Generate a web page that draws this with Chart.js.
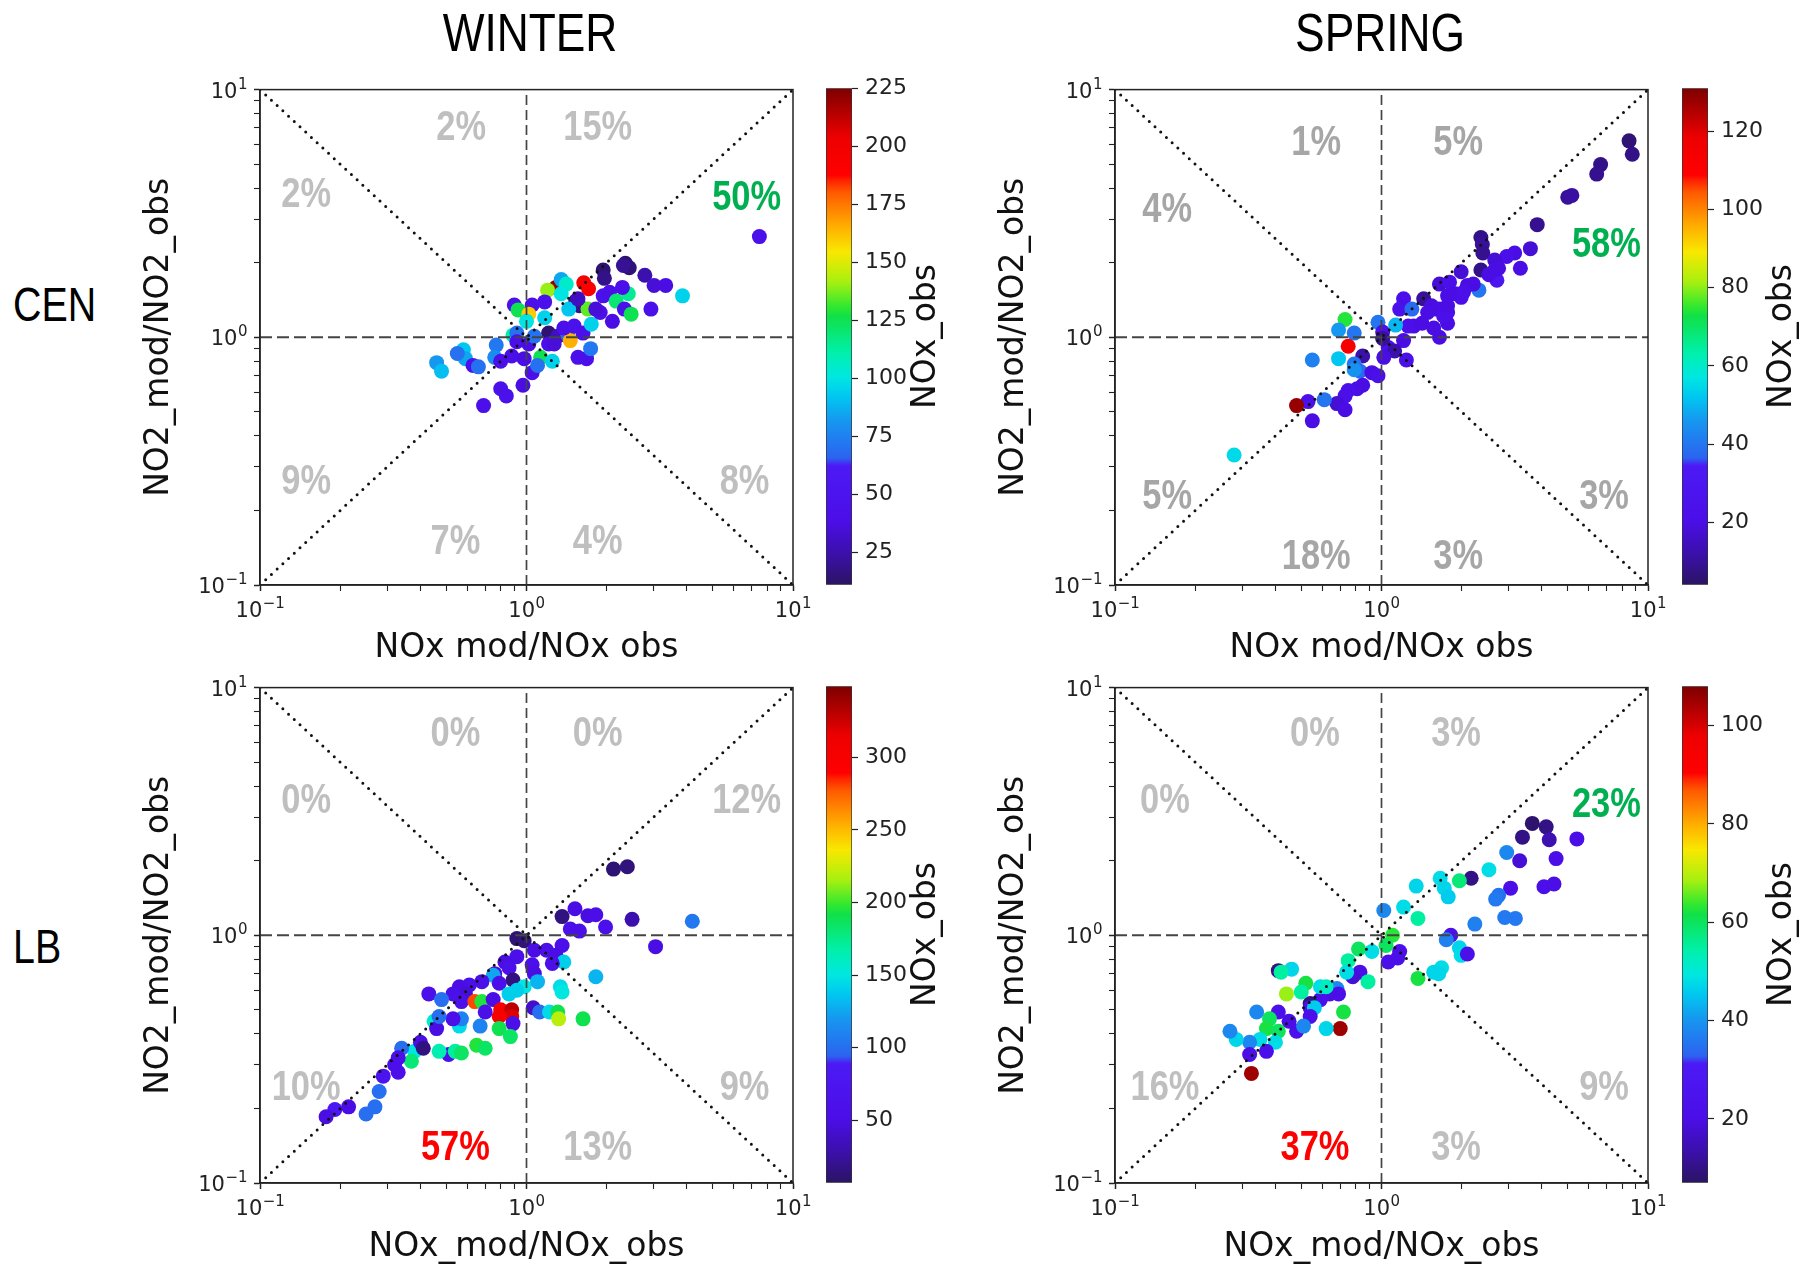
<!DOCTYPE html>
<html>
<head>
<meta charset="utf-8">
<script src="https://cdn.jsdelivr.net/npm/chart.js@4.4.1/dist/chart.umd.min.js"></script>
<style>
  html, body { margin: 0; padding: 0; background: #fff; width: 1814px; height: 1265px; overflow: hidden; }
  canvas { position: absolute; }
  .lbl { position: absolute; font-family: 'Liberation Sans', Arial, sans-serif; color: #000; white-space: nowrap; line-height: 1; }
  .ttl { width: 300px; text-align: center; font-size: 54px; transform: scaleX(0.82); transform-origin: 50% 50%; }
  .row { font-size: 48px; transform: scaleX(0.82); transform-origin: 0 50%; }
</style>
</head>
<body>
<div class="lbl ttl" style="left:380px; top:5px;">WINTER</div>
<div class="lbl ttl" style="left:1230px; top:5px;">SPRING</div>
<div class="lbl row" style="left:13px; top:281px;">CEN</div>
<div class="lbl row" style="left:13px; top:923px;">LB</div>

<script>
// x = NOx_mod/NOx_obs, y = NO2_mod/NO2_obs, colour = NOx_obs

const LOG_TICKS = [0.1, 0.2, 0.3, 0.4, 0.5, 0.6, 0.7, 0.8, 0.9, 1, 2, 3, 4, 5, 6, 7, 8, 9, 10];
const DECADE_TICKS = [0.1, 1, 10];
const DECADE_EXP = ['\u22121', '0', '1'];

// ---- WINTER / CEN ----
const WINTER_CEN_NOX = [7.48, 2.35, 2.43, 2.31, 1.94, 1.96, 2.78, 3.01, 3.33, 3.85, 2.93, 1.29, 1.64, 1.71, 1.35, 1.41, 1.20, 1.53, 1.58, 1.44,
  0.90, 0.93, 1.05, 1.17, 1.02, 1.00, 0.89, 0.92, 1.21, 1.31, 1.43, 1.46, 1.63, 1.75, 1.89, 2.10, 1.94, 2.05, 2.17, 2.41,
  2.33, 2.47, 1.70, 1.82, 0.77, 0.76, 0.80, 0.88, 0.98, 0.58, 0.59, 0.55, 0.63, 0.66, 0.46, 0.48, 0.69, 0.80, 0.84, 0.97,
  1.05, 1.13, 1.10, 1.25, 1.21, 1.27, 1.56, 1.68, 1.74, 0.92, 1.02, 1.07, 1.38, 1.51, 1.35, 1.56, 2.29, 1.17];
const WINTER_CEN_NO2 = [2.55, 1.99, 1.91, 1.95, 1.87, 1.73, 1.78, 1.62, 1.62, 1.47, 1.30, 1.59, 1.66, 1.57, 1.71, 1.64, 1.55, 1.40, 1.34, 1.30,
  1.35, 1.29, 1.35, 1.39, 1.24, 1.16, 1.02, 1.04, 1.04, 1.01, 1.02, 0.97, 1.04, 1.13, 1.26, 1.16, 1.47, 1.52, 1.40, 1.50,
  1.30, 1.24, 1.30, 1.30, 0.93, 0.83, 0.80, 0.84, 0.82, 0.89, 0.82, 0.86, 0.77, 0.76, 0.79, 0.73, 0.53, 0.62, 0.58, 0.64,
  0.72, 0.83, 0.77, 0.80, 0.94, 0.94, 0.83, 0.82, 0.90, 0.96, 0.94, 1.01, 1.09, 1.11, 1.50, 1.43, 1.59, 1.20];
const WINTER_CEN_OBS = [42, 12, 15, 20, 14, 18, 25, 35, 38, 95, 40, 220, 195, 190, 85, 105, 140, 15, 18, 92,
  45, 125, 40, 45, 160, 100, 110, 70, 14, 30, 68, 165, 40, 95, 42, 38, 45, 40, 120, 115,
  45, 125, 135, 35, 72, 78, 40, 42, 38, 92, 85, 70, 42, 70, 82, 90, 42, 40, 44, 38,
  40, 125, 70, 95, 40, 35, 40, 42, 72, 40, 38, 70, 40, 45, 100, 30, 40, 95];
const WINTER_CEN_PCT = ['2%', '15%', '2%', '50%', '9%', '8%', '7%', '4%'];
const WINTER_CEN_CB_RANGE = [11, 225];
const WINTER_CEN_CB_TICKS = [25, 50, 75, 100, 125, 150, 175, 200, 225];

// ---- SPRING / CEN ----
const SPRING_CEN_NOX = [8.49, 8.73, 6.64, 6.42, 5.00, 5.18, 3.84, 2.36, 2.39, 2.40, 2.36, 3.62, 3.16, 2.95, 3.32, 2.66, 2.71, 2.66, 1.99, 2.32,
  2.21, 1.65, 1.80, 1.77, 1.89, 1.99, 1.44, 1.54, 1.65, 1.77, 1.77, 1.21, 1.17, 1.30, 1.32, 1.26, 1.42, 1.57, 1.65, 1.21,
  1.13, 0.97, 1.01, 0.73, 0.69, 0.79, 0.75, 0.55, 0.69, 0.85, 0.79, 0.83, 0.79, 0.92, 0.97, 1.06, 1.12, 1.02, 1.24, 1.01,
  0.85, 0.81, 0.75, 0.73, 0.68, 0.73, 0.61, 0.53, 0.48, 0.55, 0.28, 2.53, 2.10, 2.03, 2.75, 1.60, 1.71, 1.49, 1.77];
const SPRING_CEN_NO2 = [6.21, 5.48, 4.98, 4.56, 3.68, 3.74, 2.85, 2.53, 2.37, 2.19, 1.87, 2.28, 2.19, 2.12, 1.90, 2.05, 1.70, 1.87, 1.84, 1.55,
  1.64, 1.64, 1.67, 1.47, 1.50, 1.45, 1.43, 1.34, 1.30, 1.26, 1.14, 1.43, 1.30, 1.30, 1.11, 1.11, 1.14, 1.09, 1.00, 0.97,
  1.12, 1.15, 1.05, 1.18, 1.07, 1.04, 0.92, 0.81, 0.82, 0.84, 0.78, 0.73, 0.74, 0.72, 0.70, 0.91, 0.88, 0.83, 0.81, 0.99,
  0.64, 0.62, 0.61, 0.58, 0.54, 0.51, 0.56, 0.55, 0.53, 0.46, 0.335, 1.79, 1.62, 1.52, 1.90, 1.30, 1.22, 1.26, 1.34];
const SPRING_CEN_OBS = [6, 8, 8, 9, 10, 11, 9, 8, 10, 9, 8, 18, 20, 22, 20, 18, 30, 22, 18, 40,
  20, 18, 22, 20, 20, 21, 10, 19, 20, 22, 20, 22, 24, 38, 20, 22, 20, 20, 20, 20,
  50, 40, 22, 74, 46, 40, 112, 42, 52, 12, 40, 38, 45, 20, 22, 22, 12, 20, 22, 10,
  20, 20, 22, 22, 18, 20, 40, 22, 128, 20, 55, 20, 20, 22, 20, 20, 22, 20, 20];
const SPRING_CEN_PCT = ['1%', '5%', '4%', '58%', '5%', '3%', '18%', '3%'];
const SPRING_CEN_CB_RANGE = [4, 131];
const SPRING_CEN_CB_TICKS = [20, 40, 60, 80, 100, 120];

// ---- WINTER / LB ----
const WINTER_LB_NOX = [2.12, 2.39, 1.52, 1.36, 1.70, 1.82, 2.49, 4.19, 1.98, 1.46, 1.58, 3.05, 0.92, 0.98, 1.19, 1.07, 1.36, 1.29, 1.38, 1.25,
  1.05, 1.07, 0.92, 0.83, 0.86, 0.76, 0.75, 0.89, 0.79, 0.98, 0.92, 0.86, 1.10, 1.34, 1.36, 1.82, 0.68, 0.61, 0.56, 0.59,
  0.57, 0.53, 0.64, 0.68, 0.75, 0.43, 0.48, 0.80, 0.88, 0.88, 0.79, 0.70, 0.89, 1.06, 1.12, 1.22, 1.31, 1.32, 1.63, 0.79,
  0.87, 0.67, 0.56, 0.57, 0.53, 0.45, 0.46, 0.47, 0.65, 0.70, 0.51, 0.54, 0.57, 0.47, 0.38, 0.37, 0.40, 0.41, 0.34, 0.33,
  0.32, 0.33, 0.29, 0.28, 0.27, 0.25, 0.215, 0.191, 0.177];
const WINTER_LB_NO2 = [1.85, 1.89, 1.28, 1.19, 1.20, 1.21, 1.16, 1.14, 1.08, 1.06, 1.04, 0.90, 0.97, 0.95, 0.87, 0.87, 0.91, 0.83, 0.78, 0.77,
  0.76, 0.70, 0.82, 0.78, 0.74, 0.70, 0.69, 0.66, 0.64, 0.62, 0.60, 0.58, 0.65, 0.62, 0.59, 0.68, 0.65, 0.63, 0.62, 0.58,
  0.54, 0.58, 0.54, 0.54, 0.55, 0.58, 0.55, 0.50, 0.50, 0.47, 0.47, 0.49, 0.44, 0.51, 0.49, 0.49, 0.49, 0.46, 0.46, 0.42,
  0.39, 0.43, 0.43, 0.46, 0.46, 0.45, 0.42, 0.47, 0.36, 0.35, 0.33, 0.34, 0.335, 0.34, 0.34, 0.31, 0.37, 0.35, 0.35, 0.32,
  0.30, 0.28, 0.27, 0.234, 0.203, 0.19, 0.203, 0.198, 0.185];
const WINTER_LB_OBS = [12, 14, 50, 15, 48, 52, 30, 105, 55, 55, 55, 50, 12, 14, 55, 50, 55, 50, 140, 55,
  55, 50, 55, 50, 55, 50, 125, 15, 55, 150, 140, 140, 130, 145, 150, 130, 55, 55, 50, 45,
  55, 55, 280, 195, 50, 55, 100, 300, 330, 320, 300, 55, 55, 40, 100, 145, 190, 220, 190, 190,
  185, 110, 145, 110, 55, 155, 50, 100, 195, 185, 55, 170, 185, 165, 150, 180, 50, 15, 100, 55,
  55, 55, 70, 100, 100, 100, 50, 80, 50];
const WINTER_LB_PCT = ['0%', '0%', '0%', '12%', '10%', '9%', '57%', '13%'];
const WINTER_LB_CB_RANGE = [7, 349];
const WINTER_LB_CB_TICKS = [50, 100, 150, 200, 250, 300];

// ---- SPRING / LB ----
const SPRING_LB_NOX = [3.68, 4.15, 3.38, 4.26, 5.41, 2.95, 3.30, 4.52, 2.53, 2.17, 1.96, 1.66, 1.72, 1.78, 1.35, 1.21, 3.05, 2.75, 2.68, 4.07,
  4.44, 2.90, 3.18, 2.24, 1.02, 1.37, 1.82, 1.75, 1.96, 1.99, 2.10, 1.68, 1.64, 1.37, 1.10, 1.04, 1.06, 1.17, 1.15, 0.92,
  0.82, 0.75, 0.83, 0.78, 0.89, 0.74, 0.68, 0.69, 0.64, 0.59, 0.54, 0.54, 0.59, 0.62, 0.56, 0.52, 0.50, 0.44, 0.46, 0.41,
  0.42, 0.72, 0.70, 0.62, 0.54, 0.48, 0.51, 0.45, 0.41, 0.38, 0.37, 0.41, 0.40, 0.34, 0.35, 0.37, 0.32, 0.32, 0.285, 0.27,
  0.325, 1.57];
const SPRING_LB_NO2 = [2.83, 2.74, 2.49, 2.43, 2.45, 2.16, 2.00, 2.04, 1.84, 1.70, 1.66, 1.70, 1.55, 1.43, 1.58, 1.30, 1.55, 1.45, 1.40, 1.57,
  1.61, 1.18, 1.17, 1.11, 1.26, 1.17, 1.00, 0.96, 0.89, 0.83, 0.84, 0.74, 0.70, 0.67, 1.00, 0.91, 0.78, 0.86, 0.81, 0.86,
  0.88, 0.79, 0.71, 0.68, 0.65, 0.71, 0.61, 0.58, 0.58, 0.55, 0.53, 0.51, 0.62, 0.62, 0.51, 0.64, 0.59, 0.58, 0.73, 0.72,
  0.71, 0.49, 0.42, 0.42, 0.47, 0.41, 0.43, 0.45, 0.49, 0.46, 0.42, 0.41, 0.37, 0.49, 0.38, 0.34, 0.37, 0.33, 0.38, 0.41,
  0.277, 0.71];
const SPRING_LB_OBS = [8, 10, 10, 14, 20, 38, 18, 20, 48, 10, 58, 48, 47, 46, 47, 48, 20, 35, 36, 22,
  20, 36, 36, 37, 38, 55, 22, 37, 47, 48, 22, 48, 47, 62, 63, 60, 22, 22, 22, 48,
  60, 55, 20, 18, 55, 48, 38, 22, 20, 22, 10, 22, 48, 52, 46, 62, 55, 68, 47, 10,
  55, 62, 105, 47, 22, 22, 38, 20, 22, 60, 62, 60, 48, 38, 48, 22, 38, 20, 47, 38,
  105, 47];
const SPRING_LB_PCT = ['0%', '3%', '0%', '23%', '16%', '9%', '37%', '3%'];
const SPRING_LB_CB_RANGE = [7, 108];
const SPRING_LB_CB_TICKS = [20, 40, 60, 80, 100];

// rainbow-like colour map, stops from bottom (0) to top (1)
const CMAP = [
  [0.000, '#2b1463'], [0.060, '#3a10a8'], [0.130, '#4b0ee8'], [0.240, '#4c1af5'],
  [0.255, '#2c62f0'], [0.330, '#1697f0'], [0.380, '#00c8f0'], [0.420, '#00e8e0'],
  [0.470, '#00f0a8'], [0.540, '#10e048'], [0.560, '#30e830'], [0.610, '#a8f010'],
  [0.670, '#f8e800'], [0.720, '#ffb000'], [0.790, '#ff5a00'], [0.815, '#ff2000'],
  [0.825, '#ff0000'], [0.900, '#ee0000'], [1.000, '#7d0000']
];

function hexRgb(h) {
  const n = parseInt(h.slice(1), 16);
  return [(n >> 16) & 255, (n >> 8) & 255, n & 255];
}

function cmap(t) {
  t = Math.max(0, Math.min(1, t));
  for (let i = 1; i < CMAP.length; i++) {
    if (t <= CMAP[i][0]) {
      const [t0, c0] = CMAP[i - 1], [t1, c1] = CMAP[i];
      const k = (t - t0) / (t1 - t0 || 1);
      const a = hexRgb(c0), b = hexRgb(c1);
      return `rgb(${a.map((v, j) => Math.round(v + (b[j] - v) * k)).join(',')})`;
    }
  }
  return CMAP[CMAP.length - 1][1];
}

// ── layout (page pixels) ─────────────────────────────────────────────────────
const PLOT_W = 533, PLOT_H = 497;
const Y_AXIS_W = 140, X_AXIS_H = 84, PAD_TOP = 18, PAD_RIGHT = 30;
const CB_W = 26, CB_CANVAS_W = 140, CB_PAD = 20, CB_LABEL_DX = 100;

const AXIS_FONT = "'DejaVu Sans', sans-serif";
const PCT_FONT = "bold 42px 'Liberation Sans', Arial, sans-serif";
const PCT_SQUEEZE = 0.82;   // narrow bold look
const GREEN = '#00b050', RED = '#ff0000';

// octant label anchors in data units:
// upper-left, upper-right, left-high, right-high, left-low, right-low, lower-left, lower-right
const PANELS = [
  {
    left: 260, top: 88, cbLeft: 826, xTitle: 'NOx mod/NOx obs', xTitleGap: 4.5,
    nox: WINTER_CEN_NOX, no2: WINTER_CEN_NO2, obs: WINTER_CEN_OBS,
    pct: WINTER_CEN_PCT, pctGray: '#bfbfbf', pctColors: { 3: GREEN },
    anchors: [[0.569, 6.95], [1.85, 6.95], [0.149, 3.73], [6.70, 3.65], [0.149, 0.259], [6.58, 0.259], [0.541, 0.149], [1.85, 0.149]],
    cbRange: WINTER_CEN_CB_RANGE, cbTicks: WINTER_CEN_CB_TICKS
  },
  {
    left: 1115, top: 88, cbLeft: 1682, xTitle: 'NOx mod/NOx obs', xTitleGap: 4.5,
    nox: SPRING_CEN_NOX, no2: SPRING_CEN_NO2, obs: SPRING_CEN_OBS,
    pct: SPRING_CEN_PCT, pctGray: '#a6a6a6', pctColors: { 3: GREEN },
    anchors: [[0.569, 6.04], [1.94, 6.04], [0.157, 3.25], [6.98, 2.36], [0.157, 0.226], [6.84, 0.226], [0.569, 0.129], [1.94, 0.129]],
    cbRange: SPRING_CEN_CB_RANGE, cbTicks: SPRING_CEN_CB_TICKS
  },
  {
    left: 260, top: 686, cbLeft: 826, xTitle: 'NOx_mod/NOx_obs', xTitleGap: 3.5,
    nox: WINTER_LB_NOX, no2: WINTER_LB_NO2, obs: WINTER_LB_OBS,
    pct: WINTER_LB_PCT, pctGray: '#bfbfbf', pctColors: { 6: RED },
    anchors: [[0.541, 6.45], [1.85, 6.45], [0.149, 3.46], [6.70, 3.46], [0.149, 0.241], [6.58, 0.241], [0.541, 0.138], [1.85, 0.138]],
    cbRange: WINTER_LB_CB_RANGE, cbTicks: WINTER_LB_CB_TICKS
  },
  {
    left: 1115, top: 686, cbLeft: 1682, xTitle: 'NOx_mod/NOx_obs', xTitleGap: 3.5,
    nox: SPRING_LB_NOX, no2: SPRING_LB_NO2, obs: SPRING_LB_OBS,
    pct: SPRING_LB_PCT, pctGray: '#bfbfbf', pctColors: { 3: GREEN, 6: RED },
    anchors: [[0.563, 6.45], [1.905, 6.45], [0.154, 3.46], [6.98, 3.36], [0.154, 0.241], [6.84, 0.241], [0.563, 0.138], [1.905, 0.138]],
    cbRange: SPRING_LB_CB_RANGE, cbTicks: SPRING_LB_CB_TICKS
  }
];

function isDecade(v) {
  const e = Math.log10(v);
  return Math.abs(e - Math.round(e)) < 1e-6;
}

function makeCanvas(left, top, w, h) {
  const c = document.createElement('canvas');
  c.width = w; c.height = h;
  c.style.left = left + 'px'; c.style.top = top + 'px';
  c.style.width = w + 'px'; c.style.height = h + 'px';
  document.body.appendChild(c);
  return c.getContext('2d');
}

// "10" with a raised exponent; y is the baseline of the "10"
function drawPow(ctx, exp, x, y, align) {
  ctx.font = `21px ${AXIS_FONT}`;
  const wb = ctx.measureText('10').width;
  ctx.font = `15px ${AXIS_FONT}`;
  const we = ctx.measureText(exp).width;
  const x0 = align === 'center' ? x - (wb + we) / 2 : x - wb - we;
  ctx.textAlign = 'left';
  ctx.textBaseline = 'alphabetic';
  ctx.font = `21px ${AXIS_FONT}`;
  ctx.fillText('10', x0, y);
  ctx.font = `15px ${AXIS_FONT}`;
  ctx.fillText(exp, x0 + wb + 0.5, y - 9);
}

// percentage labels under the marks; frame and decade labels on top
const panelDecor = {
  id: 'panelDecor',
  beforeDatasetsDraw(chart, args, opts) {
    const { ctx, scales: { x, y } } = chart;
    ctx.save();
    ctx.font = PCT_FONT;
    ctx.textAlign = 'center';
    ctx.textBaseline = 'middle';
    opts.labels.forEach((t, i) => {
      const [vx, vy] = opts.anchors[i];
      ctx.fillStyle = opts.colors[i] || opts.gray;
      ctx.save();
      ctx.translate(x.getPixelForValue(vx), y.getPixelForValue(vy));
      ctx.scale(PCT_SQUEEZE, 1);
      ctx.fillText(t, 0, 0);
      ctx.restore();
    });
    ctx.restore();
  },
  afterDraw(chart) {
    const { ctx, chartArea: a, scales: { x, y } } = chart;
    ctx.save();
    ctx.strokeStyle = '#222';
    ctx.lineWidth = 1.5;
    ctx.strokeRect(a.left, a.top, a.right - a.left, a.bottom - a.top);
    ctx.fillStyle = '#222';
    DECADE_TICKS.forEach((v, i) => {
      drawPow(ctx, DECADE_EXP[i], x.getPixelForValue(v), a.bottom + 32, 'center');
      drawPow(ctx, DECADE_EXP[i], a.left - 13, y.getPixelForValue(v) + 8, 'right');
    });
    ctx.restore();
  }
};

const cbLabel = {
  id: 'cbLabel',
  afterDraw(chart, args, opts) {
    const { ctx, chartArea: a } = chart;
    ctx.save();
    ctx.translate(opts.x, (a.top + a.bottom) / 2);
    ctx.rotate(-Math.PI / 2);
    ctx.font = `33px ${AXIS_FONT}`;
    ctx.fillStyle = '#111';
    ctx.textAlign = 'center';
    ctx.textBaseline = 'middle';
    ctx.fillText('NOx_obs', 0, 0);
    ctx.restore();
  }
};

function refLine(points, color, width, dash, cap) {
  return {
    data: points, showLine: true, pointRadius: 0, borderColor: color,
    borderWidth: width, borderDash: dash, borderCapStyle: cap, fill: false, order: 0
  };
}

function logAxis(position, extra) {
  return Object.assign({
    type: 'logarithmic', min: 0.1, max: 10, position,
    afterBuildTicks: s => { s.ticks = LOG_TICKS.map(v => ({ value: v })); },
    ticks: { autoSkip: false, maxRotation: 0, padding: 7, font: { family: AXIS_FONT, size: 21 }, callback: () => '' },
    grid: { drawOnChartArea: false, tickLength: 6, tickColor: '#222', tickWidth: c => isDecade(c.tick.value) ? 1.5 : 1.1 },
    border: { color: '#222', width: 1.5 }
  }, extra);
}

function renderPanel(p) {
  const ctx = makeCanvas(p.left - Y_AXIS_W, p.top - PAD_TOP,
    Y_AXIS_W + PLOT_W + PAD_RIGHT, PAD_TOP + PLOT_H + X_AXIS_H);
  const pts = p.nox.map((v, i) => ({ x: v, y: p.no2[i] }));
  const [lo, hi] = p.cbRange;

  new Chart(ctx, {
    type: 'scatter',
    data: {
      datasets: [
        refLine([{ x: 0.1, y: 0.1 }, { x: 10, y: 10 }], '#111', 3, [0, 7.8], 'round'),
        refLine([{ x: 0.1, y: 10 }, { x: 10, y: 0.1 }], '#111', 3, [0, 7.8], 'round'),
        refLine([{ x: 1, y: 0.1 }, { x: 1, y: 10 }], '#444', 1.7, [10, 5], 'butt'),
        refLine([{ x: 0.1, y: 1 }, { x: 10, y: 1 }], '#444', 2, [12, 5], 'butt'),
        {
          data: pts, order: 1,
          pointRadius: 7.5, pointHoverRadius: 7.5, pointBorderWidth: 0,
          pointBackgroundColor: p.obs.map(v => cmap((v - lo) / (hi - lo)))
        }
      ]
    },
    options: {
      responsive: false, animation: false, events: [],
      layout: { padding: { top: PAD_TOP, right: PAD_RIGHT, left: 0, bottom: 0 } },
      plugins: {
        legend: { display: false }, tooltip: { enabled: false },
        panelDecor: { labels: p.pct, anchors: p.anchors, colors: p.pctColors, gray: p.pctGray }
      },
      scales: {
        x: logAxis('bottom', {
          afterFit: s => { s.height = X_AXIS_H; },
          title: { display: true, text: p.xTitle, color: '#111', font: { family: AXIS_FONT, size: 33, lineHeight: 1 }, padding: { top: 0, bottom: p.xTitleGap } }
        }),
        y: logAxis('left', {
          afterFit: s => { s.width = Y_AXIS_W; },
          title: { display: true, text: 'NO2_mod/NO2_obs', color: '#111', font: { family: AXIS_FONT, size: 33, lineHeight: 1 }, padding: { top: 23, bottom: 0 } }
        })
      }
    },
    plugins: [panelDecor]
  });
}

function renderColorbar(p) {
  const ctx = makeCanvas(p.cbLeft, p.top - CB_PAD, CB_CANVAS_W, PLOT_H + 2 * CB_PAD);
  const [lo, hi] = p.cbRange;
  new Chart(ctx, {
    type: 'bar',
    data: {
      labels: [''],
      datasets: [{
        data: [[lo, hi]],
        backgroundColor: c => {
          const a = c.chart.chartArea;
          if (!a) return '#fff';
          const g = c.chart.ctx.createLinearGradient(0, a.bottom, 0, a.top);
          CMAP.forEach(([t, col]) => g.addColorStop(t, col));
          return g;
        },
        borderColor: '#333', borderWidth: 1, borderSkipped: false,
        barPercentage: 1, categoryPercentage: 1
      }]
    },
    options: {
      responsive: false, animation: false, events: [],
      layout: { padding: { top: CB_PAD, bottom: CB_PAD, left: 0, right: 0 } },
      plugins: { legend: { display: false }, tooltip: { enabled: false }, cbLabel: { x: CB_LABEL_DX } },
      scales: {
        x: { display: false },
        y: {
          position: 'right', min: lo, max: hi,
          afterBuildTicks: s => { s.ticks = p.cbTicks.map(v => ({ value: v })); },
          afterFit: s => { s.width = CB_CANVAS_W - CB_W; },
          ticks: { padding: 7, color: '#222', font: { family: AXIS_FONT, size: 22 } },
          grid: { drawOnChartArea: false, tickLength: 6, tickColor: '#222', tickWidth: 1.2 },
          border: { display: false }
        }
      }
    },
    plugins: [cbLabel]
  });
}

PANELS.forEach(p => { renderPanel(p); renderColorbar(p); });
</script>
</body>
</html>
